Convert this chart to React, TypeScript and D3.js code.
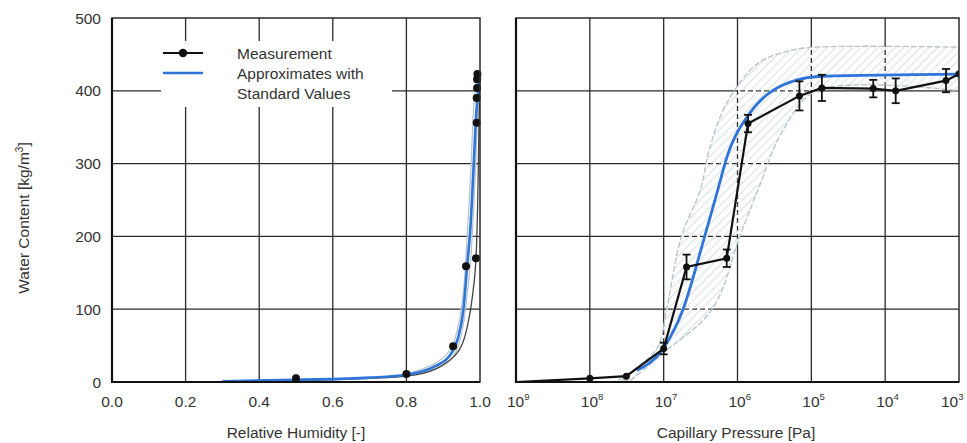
import React from 'react';
import * as d3 from 'd3';

const W = 967;
const H = 443;

// Axis ticks
const wcTicks = [0, 100, 200, 300, 400, 500];
const rhTicks = [0, 0.2, 0.4, 0.6, 0.8, 1.0];
const pcTicks = [1e9, 1e8, 1e7, 1e6, 1e5, 1e4, 1e3];
const pcTickExp = ['9', '8', '7', '6', '5', '4', '3'];

// Left panel: sorption isotherm
const rhMeasured = [0.5, 0.8, 0.927, 0.962, 0.989, 0.991, 0.991, 0.992, 0.992, 0.993];
const wcMeasuredL = [5, 11, 49, 159, 170, 356, 390, 404, 416, 423];

const rhMeasCurve = [0.3, 0.5, 0.7, 0.8, 0.88, 0.91, 0.95, 0.965, 0.98, 0.99, 0.995, 0.998, 1.0];
const wcMeasCurve = [0.5, 2, 5, 8, 18, 27, 50, 75, 120, 180, 280, 380, 425];

const rhApprox = [0.3, 0.5, 0.7, 0.8, 0.88, 0.92, 0.94, 0.955, 0.965, 0.975, 0.983, 0.99, 0.995, 0.998];
const wcApprox = [1, 3, 6, 10, 22, 38, 60, 100, 159, 220, 300, 370, 400, 420];

const rhBandUpper = [0.8, 0.88, 0.92, 0.94, 0.955, 0.965, 0.975, 0.983, 0.99];
const wcBandUpper = [11, 26, 45, 75, 125, 200, 290, 380, 420];
const rhBandLower = [0.8, 0.88, 0.92, 0.94, 0.955, 0.965, 0.975, 0.983, 0.99, 0.995];
const wcBandLower = [9, 18, 30, 48, 80, 120, 170, 240, 320, 400];

// Right panel: moisture retention
const pcMeasured = [1e9, 1e8, 3.2e7, 1e7, 4.9e6, 1.4e6, 7.2e5, 1.45e5, 7.2e4, 1.45e4, 7.2e3, 1.5e3, 1e3];
const wcMeasuredR = [0, 5, 8, 46, 158, 170, 355, 393, 404, 403, 400, 414, 423];
const wcErrR = [0, 0, 0, 8, 17, 12, 12, 20, 18, 12, 17, 16, 0];

const pcApprox = [2.3e7, 1e7, 5.5e6, 2.8e6, 1.86e6, 1.4e6, 7.2e5, 1.55e5, 7e4, 1e3];
const wcApproxR = [16, 47, 99, 199, 263, 308, 366, 415, 420, 423];

const pcBandUpper = [4e7, 2e7, 1.2e7, 9.1e6, 5.75e6, 3.2e6, 2.4e6, 1.4e6, 5.4e5, 2e5, 8.5e4, 1e3];
const wcBandUpper2 = [3, 25, 48, 100, 200, 263, 320, 383, 437, 455, 460, 460];
const pcBandLower = [2.8e7, 1e7, 2.2e6, 9.3e5, 5e5, 2.45e5, 8.5e4, 1e3];
const wcBandLower2 = [2, 40, 100, 200, 270, 345, 400, 400];

const FONT = '"Liberation Sans", Arial, sans-serif';
const TXT = '#333';
const GRID = '#2a2a2a';
const BLUE = '#2f74d8';
const BAND = '#b4c3ca';

export default function App() {
  const yS = d3.scaleLinear().domain([0, 500]).range([382, 18]);
  const xL = d3.scaleLinear().domain([0, 1]).range([112, 480]);
  const xR = d3.scaleLog().domain([1e9, 1e3]).range([516, 959]);

  const pts = (xs: number[], ys: number[], sx: (v: number) => number) =>
    xs.map((x, i) => [sx(x), yS(ys[i])] as [number, number]);

  const smooth = d3.line().curve(d3.curveMonotoneX);
  const straight = d3.line();
  const cat = d3.line().curve(d3.curveCatmullRom.alpha(0.5));

  const lbUp = pts(rhBandUpper, wcBandUpper, xL);
  const lbLo = pts(rhBandLower, wcBandLower, xL).reverse();
  const leftBand = (cat(lbUp) || '') + 'L' + (cat(lbLo) || '').slice(1) + 'Z';

  const rbUp = pts(pcBandUpper, wcBandUpper2, xR);
  const rbLo = pts(pcBandLower, wcBandLower2, xR).reverse();
  const rightBand = (cat(rbUp) || '') + 'L' + (cat(rbLo) || '').slice(1) + 'Z';

  const Lx0 = 112, Lx1 = 480, Rx0 = 516, Rx1 = 959, yT = 18, yB = 382;

  const gridL = (
    <g stroke={GRID} strokeWidth={1.3}>
      {rhTicks.slice(1, -1).map((t) => (
        <line key={'lv' + t} x1={xL(t)} x2={xL(t)} y1={yT} y2={yB} />
      ))}
      {wcTicks.slice(1, -1).map((t) => (
        <line key={'lh' + t} x1={Lx0} x2={Lx1} y1={yS(t)} y2={yS(t)} />
      ))}
    </g>
  );

  const gridRLines = (dash?: string) => (
    <g stroke={GRID} strokeWidth={1.3} strokeDasharray={dash}>
      {pcTicks.slice(1, -1).map((t) => (
        <line key={'rv' + t} x1={xR(t)} x2={xR(t)} y1={yT} y2={yB} />
      ))}
      {wcTicks.slice(1, -1).map((t) => (
        <line key={'rh' + t} x1={Rx0} x2={Rx1} y1={yS(t)} y2={yS(t)} />
      ))}
    </g>
  );

  const measR = pts(pcMeasured, wcMeasuredR, xR);

  return (
    <svg width={W} height={H} style={{ position: 'absolute', left: 0, top: 0, background: '#fff' }} fontFamily={FONT}>
      <defs>
        <pattern id="hatch" patternUnits="userSpaceOnUse" width={6} height={6} patternTransform="rotate(45)">
          <line x1={0} y1={0} x2={0} y2={6} stroke={BAND} strokeWidth={1} />
        </pattern>
        <clipPath id="clipR">
          <path d={rightBand} />
        </clipPath>
        <clipPath id="plotR">
          <rect x={Rx0} y={yT} width={Rx1 - Rx0} height={yB - yT} />
        </clipPath>
        <clipPath id="plotL">
          <rect x={Lx0} y={yT - 6} width={Lx1 - Lx0 + 4} height={yB - yT + 6} />
        </clipPath>
      </defs>
      <rect x={0} y={0} width={W} height={H} fill="#fff" />

      {/* ---------- Left panel ---------- */}
      {gridL}
      <g clipPath="url(#plotL)">
        <path d={leftBand} fill="#fff" opacity={0.6} />
        <path d={leftBand} fill="url(#hatch)" stroke={BAND} strokeWidth={1.2} />
        <path d={smooth(pts(rhMeasCurve, wcMeasCurve, xL)) || ''} fill="none" stroke="#444" strokeWidth={1.3} />
        <path d={smooth(pts(rhApprox, wcApprox, xL)) || ''} fill="none" stroke={BLUE} strokeWidth={2.6} />
        {rhMeasured.map((r, i) => (
          <circle key={'dl' + i} cx={xL(r)} cy={yS(wcMeasuredL[i])} r={4} fill="#111" />
        ))}
      </g>
      {/* legend */}
      <rect x={161} y={41} width={231} height={66} fill="#fff" />
      <line x1={163} x2={203} y1={53} y2={53} stroke="#111" strokeWidth={2} />
      <circle cx={183} cy={53} r={4.2} fill="#111" />
      <line x1={163} x2={203} y1={73} y2={73} stroke={BLUE} strokeWidth={2.6} />
      <g fontSize={15.5} fill={TXT}>
        <text x={237} y={58.5}>Measurement</text>
        <text x={237} y={78.5}>Approximates with</text>
        <text x={237} y={98.5}>Standard Values</text>
      </g>
      <rect x={Lx0} y={yT} width={Lx1 - Lx0} height={yB - yT} fill="none" stroke={GRID} strokeWidth={1.5} />
      <line x1={Lx0} x2={Lx0} y1={yT} y2={yB + 1} stroke="#111" strokeWidth={2.2} />
      <line x1={Lx0} x2={Lx1} y1={yB} y2={yB} stroke="#111" strokeWidth={2} />

      <g fontSize={15.5} fill={TXT} textAnchor="end">
        {wcTicks.map((t) => (
          <text key={'yt' + t} x={101} y={yS(t) + 5.5}>{t}</text>
        ))}
      </g>
      <g fontSize={15.5} fill={TXT} textAnchor="middle">
        {rhTicks.map((t) => (
          <text key={'xt' + t} x={xL(t)} y={407}>{t.toFixed(1)}</text>
        ))}
      </g>
      <text x={296} y={438} fontSize={15.5} fill={TXT} textAnchor="middle">Relative Humidity [-]</text>
      <text transform={`translate(29,218) rotate(-90)`} fontSize={15.5} fill={TXT} textAnchor="middle">
        Water Content [kg/m<tspan fontSize={10} dy={-6}>3</tspan><tspan dy={6}>]</tspan>
      </text>

      {/* ---------- Right panel ---------- */}
      {gridRLines()}
      <g clipPath="url(#plotR)">
        <path d={rightBand} fill="#fff" />
        <g clipPath="url(#clipR)">{gridRLines('5,3')}</g>
        <path d={rightBand} fill="url(#hatch)" stroke={BAND} strokeWidth={1.3} strokeDasharray="6,2" />
        <path d={smooth(pts(pcApprox, wcApproxR, xR)) || ''} fill="none" stroke={BLUE} strokeWidth={2.8} />
        <path d={straight(measR) || ''} fill="none" stroke="#111" strokeWidth={2.2} />
        <g stroke="#111" strokeWidth={1.8}>
          {pcMeasured.map((p, i) =>
            wcErrR[i] > 0 ? (
              <g key={'eb' + i}>
                <line x1={xR(p)} x2={xR(p)} y1={yS(wcMeasuredR[i] - wcErrR[i])} y2={yS(wcMeasuredR[i] + wcErrR[i])} />
                <line x1={xR(p) - 4} x2={xR(p) + 4} y1={yS(wcMeasuredR[i] - wcErrR[i])} y2={yS(wcMeasuredR[i] - wcErrR[i])} />
                <line x1={xR(p) - 4} x2={xR(p) + 4} y1={yS(wcMeasuredR[i] + wcErrR[i])} y2={yS(wcMeasuredR[i] + wcErrR[i])} />
              </g>
            ) : null
          )}
        </g>
        {measR.slice(1).map((d, i) => (
          <circle key={'dr' + i} cx={d[0]} cy={d[1]} r={3.5} fill="#111" />
        ))}
      </g>
      <rect x={Rx0} y={yT} width={Rx1 - Rx0} height={yB - yT} fill="none" stroke={GRID} strokeWidth={1.5} />
      <line x1={Rx0} x2={Rx0} y1={yT} y2={yB + 1} stroke="#111" strokeWidth={2.2} />
      <line x1={Rx0} x2={Rx1} y1={yB} y2={yB} stroke="#111" strokeWidth={2} />

      <g fontSize={15.5} fill={TXT}>
        {pcTicks.map((t, i) => (
          <text key={'pt' + i} x={Math.min(xR(t) - 9, W - 26)} y={407}>
            10<tspan fontSize={9.5} dy={-7}>{pcTickExp[i]}</tspan>
          </text>
        ))}
      </g>
      <text x={736} y={438} fontSize={15.5} fill={TXT} textAnchor="middle">Capillary Pressure [Pa]</text>
    </svg>
  );
}
